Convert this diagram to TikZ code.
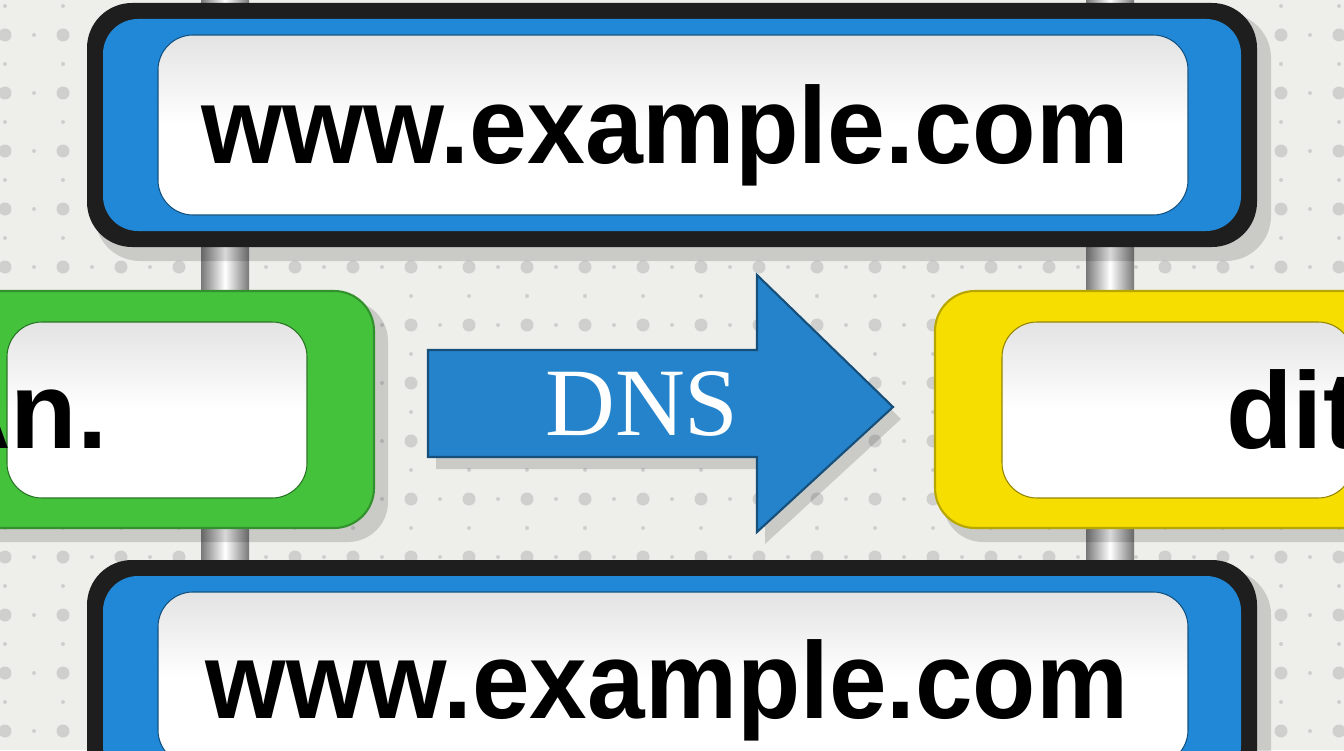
\documentclass[tikz,border=0pt]{standalone}
\usepackage{fontspec}
\setmainfont{Liberation Sans}
\newfontfamily\dnsfont{Liberation Serif}
\usetikzlibrary{calc}
\definecolor{boardgray}{RGB}{238,238,235}
\definecolor{dotgray}{RGB}{207,207,205}
\definecolor{postgray}{RGB}{120,120,120}
\definecolor{signblack}{RGB}{30,30,30}
\definecolor{signblue}{RGB}{32,136,214}
\definecolor{signgreen}{RGB}{68,194,60}
\definecolor{signyellow}{RGB}{246,222,0}
\definecolor{arrowblue}{RGB}{36,131,202}
\newcommand{\post}[1]{ \shade[left color=postgray, right color=postgray, middle color=white] (#1-24,0) rectangle (#1+24,750);}
\newcommand{\sign}[4]{
  \fill[black,opacity=0.15,rounded corners=0.9cm] (#1+8,#2+10) rectangle (#3+14,#4+14);
  \fill[signblack,rounded corners=0.9cm] (#1,#2) rectangle (#3,#4);
  \fill[signblue,rounded corners=0.7cm] (#1+16,#2+16) rectangle (#3-16,#4-16);
  \shade[top color=gray!22,bottom color=white,middle color=white,draw=signblue!60!black,line width=0.6pt,rounded corners=0.7cm] (#1+71,#2+32) rectangle (#3-69,#4-32);}
\newcommand{\signtag}[5]{
  \fill[black,opacity=0.15,rounded corners=0.8cm] (#1+8,#2+10) rectangle (#3+14,#4+14);
  \fill[#5,draw=#5!75!black,line width=1.2pt,rounded corners=0.8cm] (#1,#2) rectangle (#3,#4);
  \shade[top color=gray!22,bottom color=white,middle color=white,draw=#5!60!black,line width=0.6pt,rounded corners=0.7cm] (#1+67,#2+31) rectangle (#3-67,#4-30);}
\tikzset{urltext/.style={inner sep=0pt, anchor=base, font=\bfseries\fontsize{62}{62}\selectfont}}

\begin{document}
\begin{tikzpicture}[x=0.02cm,y=-0.02cm]
  \clip (0,0) rectangle (1344,750);
  % background board
  \fill[boardgray] (0,0) rectangle (1344,750);
  \foreach \i in {0,...,23}
    \foreach \j in {0,...,13}
      {
        \fill[dotgray] (5+58*\i,-23+58*\j) circle (0.13cm);
        \fill[dotgray] (34+58*\i,-23+58*\j) circle (0.04cm);
        \fill[dotgray] (5+58*\i,6+58*\j) circle (0.04cm);
      }
  % posts
  \post{225}
  \post{1110}
  % top sign
  \sign{87}{3}{1257}{247}
  \node[urltext] (topurl) at (665,163) {\scalebox{0.955}[1]{www.example.com}};
  % bottom sign
  \sign{87}{560}{1257}{797}
  \node[urltext] (bottomurl) at (667,718) {\scalebox{0.95}[1]{www.example.com}};
  % left tag
  \signtag{-60}{291}{374}{528}{signgreen}
  \node[urltext, anchor=base east] (lefttext) at (108,448) {An.};
  % right tag
  \signtag{935}{291}{1420}{528}{signyellow}
  \node[urltext, anchor=base west] (righttext) at (1226,448) {dit};
  % arrow
  \fill[black,opacity=0.15] (436,362) -- (765,362) -- (765,287) -- (901,419) -- (765,544) -- (765,469) -- (436,469) -- cycle;
  \fill[arrowblue,draw=arrowblue!60!black,line width=1.2pt] (428,350) -- (757,350) -- (757,275) -- (893,407) -- (757,532) -- (757,457) -- (428,457) -- cycle;
  \node[inner sep=0pt, anchor=base, text=white, font=\dnsfont\fontsize{55}{55}\selectfont] (dnslabel) at (642,435) {DNS};
\end{tikzpicture}
\end{document}
